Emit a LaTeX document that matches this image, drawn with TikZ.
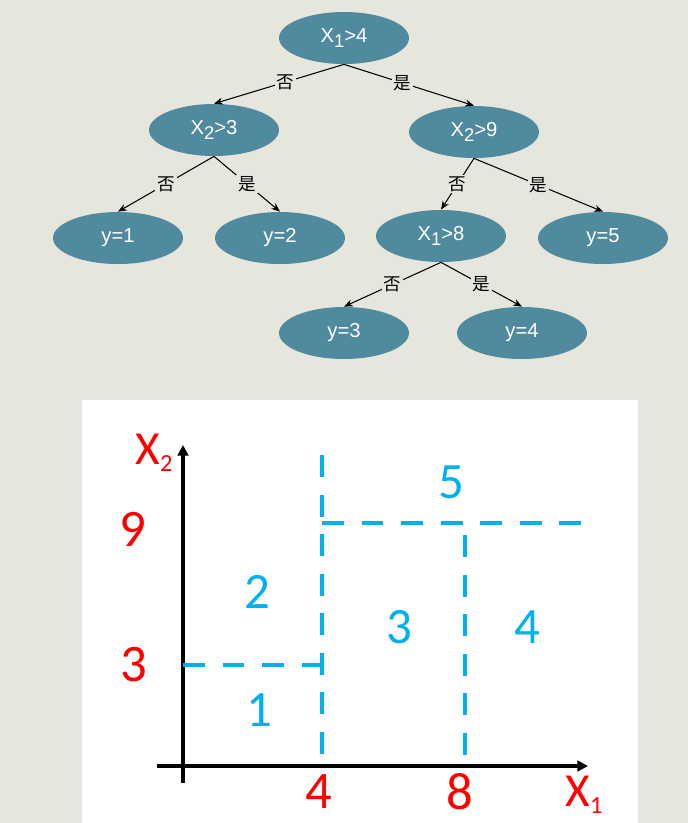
\documentclass[tikz,border=0pt]{standalone}
\usepackage{fontspec}
\setmainfont{Liberation Sans}
\newfontfamily\cjkfont{Noto Sans CJK SC}
\newfontfamily\calfont{Carlito}
\usetikzlibrary{arrows.meta,shapes.geometric}
\definecolor{treebg}{RGB}{230,230,220}
\definecolor{treenode}{RGB}{80,138,158}
\definecolor{cutblue}{RGB}{0,176,240}
\definecolor{axisred}{RGB}{255,0,0}
\newcommand{\lowidx}[1]{\raisebox{-0.4ex}{\fontsize{10.5}{11}\selectfont#1}}
\newcommand{\axidx}[1]{\raisebox{-0.3ex}{\fontsize{14}{14}\selectfont#1}}

\begin{document}
\begin{tikzpicture}[x=0.02cm,y=-0.02cm,
  splitnode/.style={ellipse,fill=treenode,text=white,inner sep=0pt,
    minimum width=2.6cm,minimum height=1.04cm,font=\fontsize{11.5}{13}\selectfont},
  branch/.style={-{Stealth[length=5pt,width=4pt]},line width=0.6pt},
  answer/.style={fill=treebg,inner sep=1pt,font=\cjkfont\fontsize{10}{12}\selectfont},
  cut/.style={cutblue,line width=2.4pt,dash pattern=on 12.5pt off 10pt},
  axisline/.style={line width=1.8pt,-{Triangle[length=6pt,width=6pt]}},
  ticklab/.style={text=axisred,inner sep=0pt,font=\calfont\fontsize{30}{31}\selectfont},
  region/.style={text=cutblue,font=\calfont\fontsize{29}{30}\selectfont}
]
  \fill[treebg] (0,0) rectangle (688,823);
  \useasboundingbox (0,0) rectangle (688,823);

  % Tree
  \node[splitnode] (r) at (344,38) {X\lowidx{1}>4};
  \node[splitnode] (a) at (214,130) {X\lowidx{2}>3};
  \node[splitnode] (b) at (474,132) {X\lowidx{2}>9};
  \node[splitnode] (a1) at (118,238) {y=1};
  \node[splitnode] (a2) at (280,238) {y=2};
  \node[splitnode] (b1) at (441,236) {X\lowidx{1}>8};
  \node[splitnode] (b2) at (603,238) {y=5};
  \node[splitnode] (c1) at (344,333) {y=3};
  \node[splitnode] (c2) at (522,333) {y=4};

  \draw[branch] (r.south) -- node[answer,pos=0.45] {否} (a.north);
  \draw[branch] (r.south) -- node[answer,pos=0.45] {是} (b.north);
  \draw[branch] (a.south) -- node[answer] {否} (a1.north);
  \draw[branch] (a.south) -- node[answer] {是} (a2.north);
  \draw[branch] (b.south) -- node[answer] {否} (b1.north);
  \draw[branch] (b.south) -- node[answer] {是} (b2.north);
  \draw[branch] (b1.south) -- node[answer] {否} (c1.north);
  \draw[branch] (b1.south) -- node[answer] {是} (c2.north);

  % Partition of the plane
  \fill[white] (82,400) rectangle (638,823);
  \coordinate (o1) at (157,766);
  \coordinate (xend) at (588,766);
  \coordinate (o2) at (183,783);
  \coordinate (yend) at (183,445);
  \draw[axisline] (o1) -- (xend);
  \draw[axisline] (o2) -- (yend);

  \coordinate (v4top) at (322,455);
  \coordinate (v4bot) at (322,760);
  \coordinate (h3l) at (183,665);
  \coordinate (h3r) at (322,665);
  \coordinate (h9l) at (322,523);
  \coordinate (h9r) at (590,523);
  \coordinate (v8top) at (465,535);
  \coordinate (v8bot) at (465,760);
  \draw[cut] (v4top) -- (v4bot);
  \draw[cut] (h3l) -- (h3r);
  \draw[cut] (h9l) -- (h9r);
  \draw[cut] (v8top) -- (v8bot);

  \node[ticklab] (t9) at (133,529) {9};
  \node[ticklab] (t3) at (134,665) {3};
  \node[ticklab] (t4) at (319,792) {4};
  \node[ticklab] (t8) at (460,792) {8};
  \node[ticklab,font=\calfont\fontsize{27}{28}\selectfont] (lx1) at (584,795) {X\axidx{1}};
  \node[ticklab,font=\calfont\fontsize{27}{28}\selectfont] (lx2) at (154,453) {X\axidx{2}};

  \node[region] (n1) at (259,710) {1};
  \node[region] (n2) at (257,592) {2};
  \node[region] (n3) at (399,627) {3};
  \node[region] (n4) at (527,627) {4};
  \node[region] (n5) at (451,482) {5};
\end{tikzpicture}
\end{document}
